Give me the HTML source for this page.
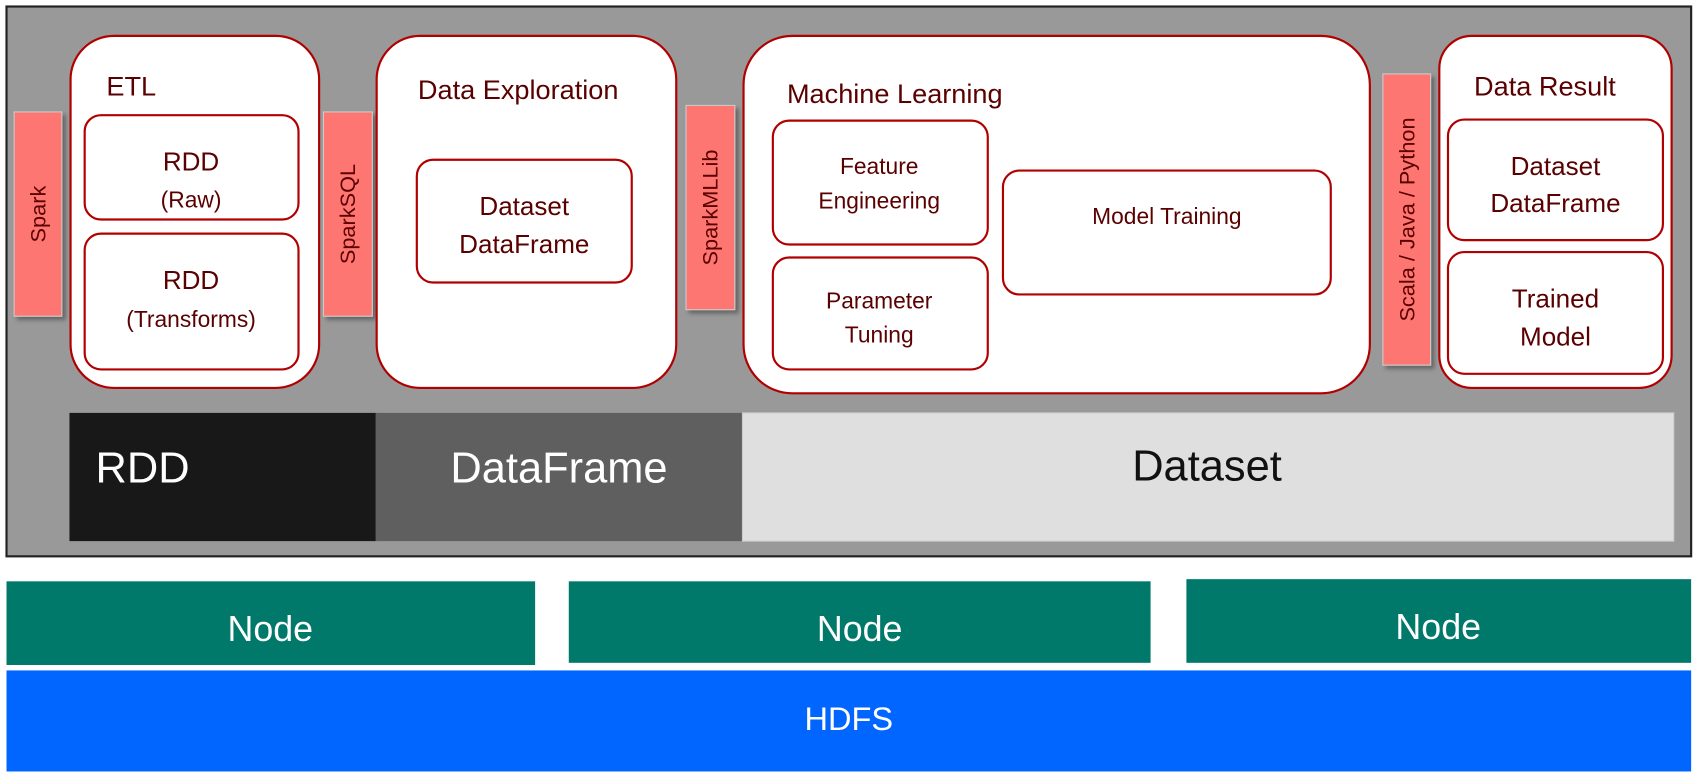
<!DOCTYPE html>
<html><head><meta charset="utf-8"><style>
html,body{margin:0;padding:0;background:#fff;overflow:hidden}
svg{display:block}
text{font-family:"Liberation Sans",sans-serif}
</style></head><body>
<svg width="1702" height="778" viewBox="0 0 1568 716" preserveAspectRatio="none" xmlns="http://www.w3.org/2000/svg">
<defs><filter id="sh" x="-20%" y="-20%" width="150%" height="150%"><feDropShadow dx="3" dy="3" stdDeviation="2" flood-color="#000" flood-opacity="0.35"/></filter></defs>
<rect x="6" y="6" width="1552" height="506" fill="#999" stroke="#222" stroke-width="2"/>
<g fill="#fe7671" stroke="#ccc" stroke-width="1" filter="url(#sh)">
<rect x="13" y="103" width="44" height="188"/>
<rect x="298" y="103" width="45" height="188"/>
<rect x="632" y="97" width="45" height="188"/>
<rect x="1274" y="68" width="44" height="268"/>
</g>
<g fill="#5a0000" font-size="20" text-anchor="middle">
<text transform="translate(42,197) rotate(-90)">Spark</text>
<text transform="translate(327,197) rotate(-90)">SparkSQL</text>
<text transform="translate(661,191) rotate(-90)">SparkMLLib</text>
<text transform="translate(1303,202) rotate(-90)">Scala / Java / Python</text>
</g>
<g fill="#fff" stroke="#b00000" stroke-width="2">
<rect x="65" y="33" width="229" height="324" rx="40"/>
<rect x="347" y="33" width="276" height="324" rx="40"/>
<rect x="685" y="33" width="577" height="329" rx="45"/>
<rect x="1326" y="33" width="214" height="324" rx="30"/>
<rect x="78" y="106" width="197" height="96" rx="15"/>
<rect x="78" y="215" width="197" height="125" rx="15"/>
<rect x="384" y="147" width="198" height="113" rx="15"/>
<rect x="712" y="111" width="198" height="114" rx="15"/>
<rect x="712" y="237" width="198" height="103" rx="15"/>
<rect x="924" y="157" width="302" height="114" rx="15"/>
<rect x="1334" y="110" width="198" height="111" rx="15"/>
<rect x="1334" y="232" width="198" height="112" rx="15"/>
</g>
<g fill="#5a0000" font-size="25">
<text x="98" y="88">ETL</text>
<text x="385" y="91">Data Exploration</text>
<text x="725" y="95">Machine Learning</text>
<text x="1358" y="88">Data Result</text>
</g>
<g fill="#5a0000" text-anchor="middle">
<text x="176" y="157" font-size="24">RDD</text>
<text x="176" y="191" font-size="21">(Raw)</text>
<text x="176" y="266" font-size="24">RDD</text>
<text x="176" y="301" font-size="21">(Transforms)</text>
<text x="483" y="198" font-size="24">Dataset</text>
<text x="483" y="233" font-size="24">DataFrame</text>
<text x="810" y="160" font-size="21">Feature</text>
<text x="810" y="192" font-size="21">Engineering</text>
<text x="810" y="284" font-size="21">Parameter</text>
<text x="810" y="315" font-size="21">Tuning</text>
<text x="1075" y="206" font-size="21">Model Training</text>
<text x="1433" y="161" font-size="24">Dataset</text>
<text x="1433" y="195" font-size="24">DataFrame</text>
<text x="1433" y="283" font-size="24">Trained</text>
<text x="1433" y="318" font-size="24">Model</text>
</g>
<rect x="64" y="380" width="283" height="118" fill="#181818"/>
<rect x="346" y="380" width="338" height="118" fill="#5f5f5f"/>
<rect x="684" y="380" width="858" height="118" fill="#dfdfdf" stroke="#ccc"/>
<g font-size="40">
<text x="88" y="444" fill="#fff">RDD</text>
<text x="515" y="444" fill="#fff" text-anchor="middle">DataFrame</text>
<text x="1112" y="442" fill="#111" text-anchor="middle">Dataset</text>
</g>
<g fill="#00796a">
<rect x="6" y="535" width="487" height="77"/>
<rect x="524" y="535" width="536" height="75"/>
<rect x="1093" y="533" width="465" height="77"/>
</g>
<rect x="6" y="617" width="1552" height="93" fill="#0066ff"/>
<g fill="#fff" text-anchor="middle">
<text x="249" y="590" font-size="33">Node</text>
<text x="792" y="590" font-size="33">Node</text>
<text x="1325" y="588" font-size="33">Node</text>
<text x="782" y="672" font-size="30">HDFS</text>
</g>
</svg>
</body></html>
